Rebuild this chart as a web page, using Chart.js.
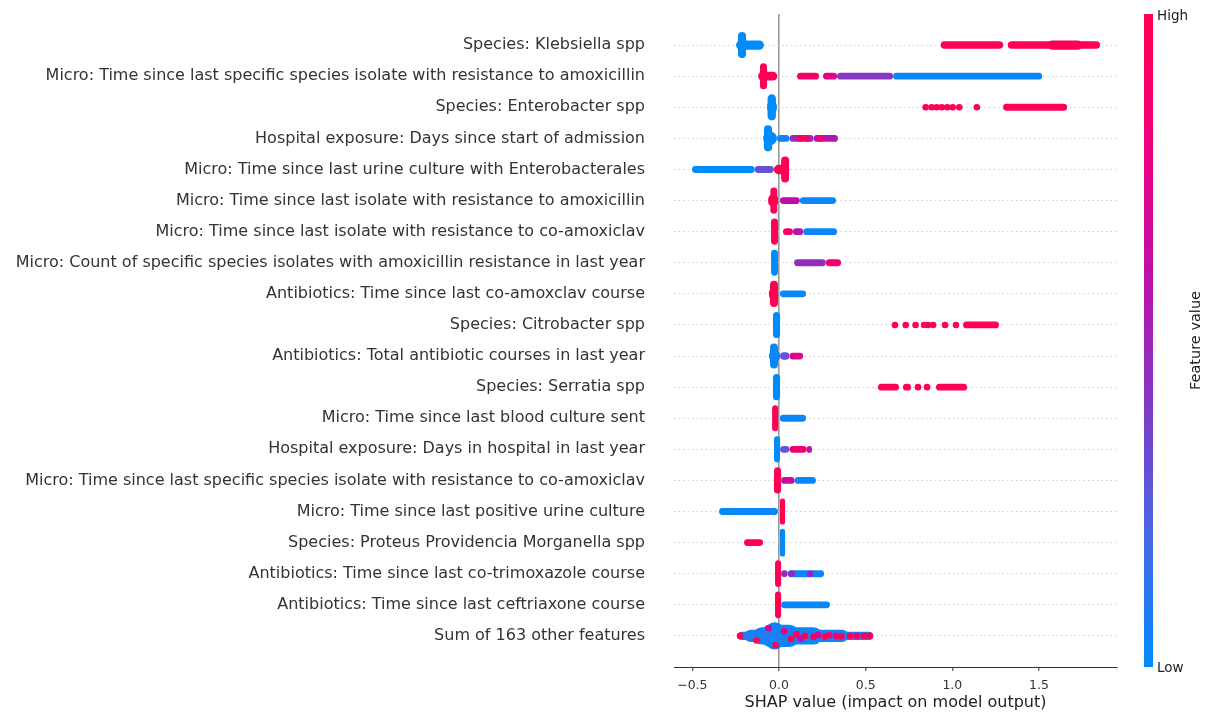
<!DOCTYPE html>
<html><head><meta charset="utf-8">
<script src="https://cdn.jsdelivr.net/npm/chart.js@4"></script>
<style>html,body{margin:0;padding:0;background:#fff}canvas{display:block}</style>
</head><body>
<canvas id="c" width="1210" height="715"></canvas>
<script>
// ---------------- data ----------------
const features = [
  "Species: Klebsiella spp",
  "Micro: Time since last specific species isolate with resistance to amoxicillin",
  "Species: Enterobacter spp",
  "Hospital exposure: Days since start of admission",
  "Micro: Time since last urine culture with Enterobacterales",
  "Micro: Time since last isolate with resistance to amoxicillin",
  "Micro: Time since last isolate with resistance to co-amoxiclav",
  "Micro: Count of specific species isolates with amoxicillin resistance in last year",
  "Antibiotics: Time since last co-amoxclav course",
  "Species: Citrobacter spp",
  "Antibiotics: Total antibiotic courses in last year",
  "Species: Serratia spp",
  "Micro: Time since last blood culture sent",
  "Hospital exposure: Days in hospital in last year",
  "Micro: Time since last specific species isolate with resistance to co-amoxiclav",
  "Micro: Time since last positive urine culture",
  "Species: Proteus Providencia Morganella spp",
  "Antibiotics: Time since last co-trimoxazole course",
  "Antibiotics: Time since last ceftriaxone course",
  "Sum of 163 other features"
];
const xTicks = [-0.5, 0.0, 0.5, 1.0, 1.5];
const xRange = [-0.606, 1.95];

// dense piles of points: [feature row, SHAP from, SHAP to, feature value (0 low .. 1 high), half spread in rows]
const piles = [
  [0, -0.237, -0.190, 0.00, 0.42],
  [0, -0.248, -0.087, 0.00, 0.15],
  [1, -0.110, -0.069, 1.00, 0.42],
  [1, -0.121, -0.010, 1.00, 0.14],
  [2, -0.066, -0.018, 0.00, 0.42],
  [2, -0.069, -0.012, 0.00, 0.20],
  [3, -0.087, -0.040, 0.00, 0.42],
  [3, -0.092, -0.012, 0.00, 0.22],
  [4, 0.012, 0.058, 1.00, 0.42],
  [5, -0.050, -0.010, 1.00, 0.42],
  [5, -0.063, 0.000, 1.00, 0.20],
  [6, -0.046, -0.006, 1.00, 0.42],
  [7, -0.046, -0.006, 0.00, 0.42],
  [8, -0.052, -0.006, 1.00, 0.42],
  [8, -0.058, 0.000, 1.00, 0.20],
  [9, -0.035, 0.006, 0.00, 0.42],
  [10, -0.052, -0.006, 0.02, 0.40],
  [10, -0.058, 0.006, 0.05, 0.20],
  [11, -0.035, 0.006, 0.00, 0.42],
  [12, -0.040, 0.000, 1.00, 0.42],
  [13, -0.029, 0.006, 0.00, 0.42],
  [14, -0.029, 0.012, 1.00, 0.42],
  [15, 0.000, 0.035, 1.00, 0.42],
  [16, 0.000, 0.035, 0.00, 0.45],
  [17, -0.023, 0.012, 1.00, 0.43],
  [18, -0.023, 0.012, 1.00, 0.43],
  [19, -0.237, 0.542, 0.08, 0.13],
  [19, -0.200, 0.400, 0.05, 0.20],
  [19, -0.150, 0.250, 0.04, 0.28],
  [19, -0.110, 0.120, 0.04, 0.36],
  [19, -0.080, 0.030, 0.04, 0.44]
];

// horizontal runs of points: [feature row, SHAP from, SHAP to, feature value, half spread in rows]
const runs = [
  [0, 0.933, 1.293, 1.00, 0.12],
  [0, 1.320, 1.852, 1.00, 0.12],
  [0, 1.550, 1.750, 1.00, 0.15],
  [1, 0.104, 0.231, 0.88, 0.11],
  [1, 0.254, 0.335, 0.75, 0.11],
  [1, 0.335, 0.658, 0.42, 0.11],
  [1, 0.658, 1.518, 0.02, 0.11],
  [2, 1.293, 1.662, 1.00, 0.11],
  [3, -0.012, 0.060, 0.05, 0.11],
  [3, 0.060, 0.200, 0.45, 0.11],
  [3, 0.200, 0.340, 0.55, 0.11],
  [4, -0.502, -0.140, 0.00, 0.11],
  [4, -0.140, -0.030, 0.30, 0.11],
  [4, -0.030, 0.060, 1.00, 0.15],
  [5, 0.000, 0.120, 0.60, 0.11],
  [5, 0.120, 0.329, 0.03, 0.11],
  [6, 0.023, 0.080, 0.90, 0.11],
  [6, 0.080, 0.140, 0.55, 0.11],
  [6, 0.140, 0.335, 0.03, 0.11],
  [7, 0.087, 0.270, 0.45, 0.11],
  [7, 0.270, 0.358, 0.85, 0.11],
  [8, 0.000, 0.156, 0.03, 0.11],
  [9, 1.062, 1.269, 1.00, 0.11],
  [10, 0.006, 0.060, 0.30, 0.12],
  [10, 0.060, 0.139, 0.75, 0.11],
  [11, 0.571, 0.692, 1.00, 0.11],
  [11, 0.715, 0.762, 1.00, 0.11],
  [11, 0.906, 1.085, 1.00, 0.11],
  [12, 0.000, 0.156, 0.03, 0.11],
  [13, 0.006, 0.060, 0.30, 0.11],
  [13, 0.060, 0.160, 0.88, 0.11],
  [13, 0.160, 0.190, 0.60, 0.11],
  [14, 0.012, 0.090, 0.65, 0.11],
  [14, 0.090, 0.213, 0.03, 0.11],
  [15, -0.346, -0.006, 0.02, 0.11],
  [16, -0.202, -0.092, 1.00, 0.11],
  [17, 0.012, 0.050, 0.50, 0.11],
  [17, 0.050, 0.260, 0.03, 0.11],
  [18, 0.012, 0.294, 0.02, 0.11]
];

// isolated points: [feature row, SHAP value, feature value, vertical jitter in rows]
const dots = [
  [2, 0.846, 1, 0], [2, 0.881, 1, 0], [2, 0.910, 1, 0], [2, 0.939, 1, 0], [2, 0.971, 1, 0], [2, 1.002, 1, 0], [2, 1.040, 1, 0], [2, 1.141, 1, 0],
  [3, 0.121, 0.9, 0], [3, 0.160, 0.9, 0], [3, 0.237, 0.9, 0],
  [9, 0.669, 1, 0], [9, 0.731, 1, 0], [9, 0.788, 1, 0], [9, 0.837, 1, 0], [9, 0.860, 1, 0], [9, 0.889, 1, 0], [9, 0.958, 1, 0], [9, 1.021, 1, 0],
  [11, 0.802, 1, 0], [11, 0.854, 1, 0],
  [17, 0.073, 0.5, 0], [17, 0.179, 0.5, 0],
  [19, -0.225, 1, 0], [19, -0.130, 1, 0.15], [19, -0.060, 0.7, -0.25], [19, -0.020, 1, 0.30], [19, 0.030, 0.8, -0.15],
  [19, 0.070, 1, 0.10], [19, 0.100, 1, -0.05], [19, 0.125, 0.6, 0.08], [19, 0.150, 1, 0], [19, 0.200, 1, 0.03],
  [19, 0.225, 0.7, -0.03], [19, 0.265, 1, 0.02], [19, 0.290, 1, -0.02], [19, 0.330, 0.8, 0], [19, 0.360, 1, 0.02],
  [19, 0.410, 1, 0], [19, 0.450, 0.9, 0], [19, 0.490, 1, 0], [19, 0.525, 1, 0]
];

// ---------------- style ----------------
const STOPS = [[0,[0,139,251]],[0.2,[72,104,228]],[0.4,[128,58,198]],[0.6,[190,14,170]],[0.8,[236,0,125]],[1,[255,0,82]]];
function colour(v){
  for (let i = 1; i < STOPS.length; i++) {
    if (v <= STOPS[i][0]) {
      const [t0,c0] = STOPS[i-1], [t1,c1] = STOPS[i];
      const f = (v - t0) / (t1 - t0);
      const c = c0.map((a,k) => Math.round(a + (c1[k]-a)*f));
      return `rgb(${c[0]},${c[1]},${c[2]})`;
    }
  }
  return 'rgb(255,0,82)';
}
const FONT = '"DejaVu Sans", sans-serif';
const yLabels = ['', ...features, ''];

const datasets = [];
datasets.push({
  type: 'scatter',
  yAxisID: 'yDots',
  data: dots.map(d => ({x: d[1], y: d[0] + 1 + d[3]})),
  backgroundColor: dots.map(d => colour(d[2])),
  pointRadius: 3.3, pointBorderWidth: 0, pointHoverRadius: 3.3
});
[...runs, ...piles].forEach(r => {
  datasets.push({
    type: 'bar',
    data: [{x: [r[1], r[2]], y: features[r[0]]}],
    backgroundColor: colour(r[3]),
    barPercentage: r[4] * 2,
    categoryPercentage: 1,
    grouped: false,
    borderRadius: 100,
    borderSkipped: false,
    borderWidth: 0
  });
});

const colorbar = {
  id: 'colorbar',
  afterDraw(chart){
    const {ctx, chartArea: a} = chart;
    const x0 = a.right + 27, w = 9;
    const g = ctx.createLinearGradient(0, a.bottom, 0, a.top);
    STOPS.forEach(([t,c]) => g.addColorStop(t, `rgb(${c[0]},${c[1]},${c[2]})`));
    ctx.save();
    ctx.fillStyle = g;
    ctx.fillRect(x0, a.top, w, a.bottom - a.top);
    ctx.fillStyle = '#222';
    ctx.font = '13.5px ' + FONT;
    ctx.textBaseline = 'middle';
    ctx.textAlign = 'left';
    ctx.fillText('High', x0 + w + 4, a.top + 2);
    ctx.fillText('Low', x0 + w + 4, a.bottom + 1);
    ctx.font = '14.5px ' + FONT;
    ctx.translate(1196, (a.top + a.bottom) / 2);
    ctx.rotate(-Math.PI / 2);
    ctx.textAlign = 'center';
    ctx.fillText('Feature value', 0, 0);
    ctx.restore();
  }
};

new Chart(document.getElementById('c'), {
  type: 'bar',
  data: { labels: yLabels, datasets },
  plugins: [colorbar],
  options: {
    indexAxis: 'y',
    responsive: false,
    animation: false,
    devicePixelRatio: 1,
    layout: { padding: { left: 0, right: 93, top: 14, bottom: 0 } },
    plugins: { legend: { display: false }, tooltip: { enabled: false } },
    scales: {
      x: {
        type: 'linear', min: xRange[0], max: xRange[1],
        afterBuildTicks: s => { s.ticks = xTicks.map(v => ({value: v})); },
        afterFit: s => { s.height = 48; s.paddingLeft = 0; s.paddingRight = 0; },
        ticks: {
          font: { family: FONT, size: 12.5 }, color: '#333', padding: 7,
          callback: v => (v < 0 ? '\u2212' : '') + Math.abs(v).toFixed(1)
        },
        grid: {
          color: c => (c.tick && c.tick.value === 0) ? '#9a9a9a' : 'rgba(0,0,0,0)',
          lineWidth: 1.6, tickColor: '#333', tickLength: 4, tickWidth: 1
        },
        border: { display: true, color: '#333', width: 1 },
        title: {
          display: true, text: 'SHAP value (impact on model output)',
          font: { family: FONT, size: 16 }, color: '#222', padding: { top: 0, bottom: 3 }
        }
      },
      y: {
        type: 'category', offset: false,
        afterFit: s => { s.width = 674; s.paddingTop = 0; s.paddingBottom = 0; },
        ticks: { autoSkip: false, font: { family: FONT, size: 16 }, color: '#333', padding: 29 },
        grid: {
          offset: false, drawTicks: false, lineWidth: 1,
          color: c => (c.index === 0 || c.index === yLabels.length - 1) ? 'rgba(0,0,0,0)' : '#cfcfcf'
        },
        border: { display: false, dash: [1.5, 3] }
      },
      yDots: {
        type: 'linear', display: false, reverse: true, offset: false,
        grid: { offset: false },
        min: 0, max: yLabels.length - 1
      }
    }
  }
});
</script>
</body></html>
